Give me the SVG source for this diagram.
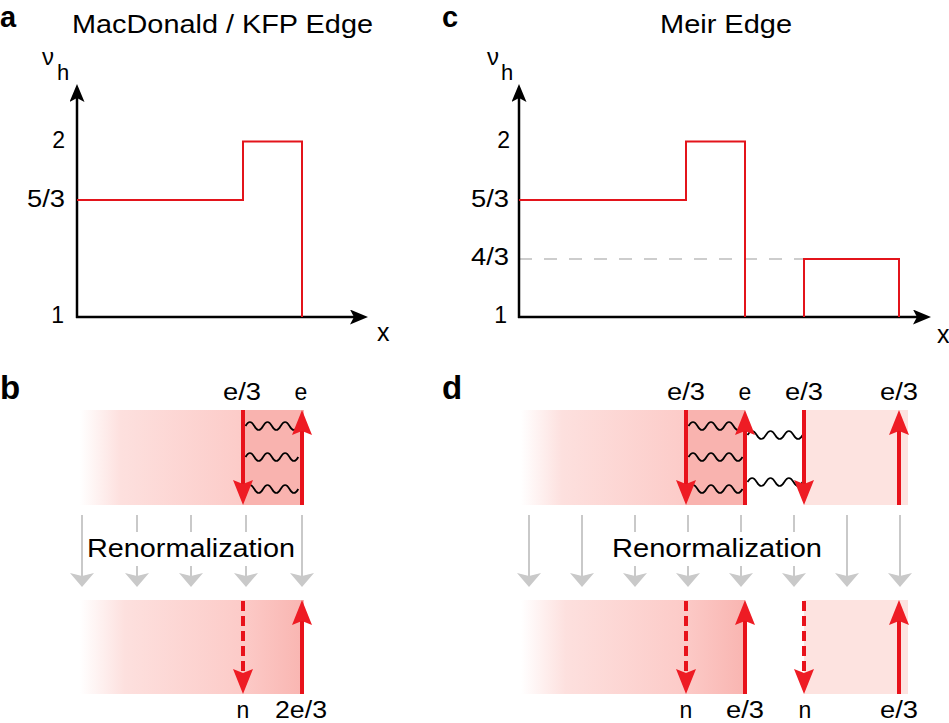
<svg xmlns="http://www.w3.org/2000/svg" width="949" height="723" viewBox="0 0 949 723">
<style>
text{font-family:"Liberation Sans",Arial,Helvetica,sans-serif;fill:#000}
.panel{font-weight:bold;font-size:33px}
.panel-top{font-weight:bold;font-size:29px}
.title{font-size:26px}
.tick{font-size:23px}
.lbl{font-size:23px}
.axis{stroke:#000;stroke-width:2.5;fill:none}
.step{stroke:#e3141b;stroke-width:2;fill:none}
.red{stroke:#e8121b;stroke-width:4;fill:none}
.dash{stroke-dasharray:10 5}
.gray{stroke:#c9c9c9;stroke-width:2;fill:none}
.wave{stroke:#000;stroke-width:1.7;fill:none}
.dark{fill:#f9b3af}
.light{fill:#fde3e0}
</style>
<defs>
<marker id="ah-black" markerUnits="userSpaceOnUse" viewBox="0 0 18 15" markerWidth="18" markerHeight="15" refX="10" refY="7.5" orient="auto"><path d="M0,0 L18,7.5 L0,15 L4,7.5 Z" fill="#000"/></marker>
<marker id="ah-red" markerUnits="userSpaceOnUse" viewBox="0 0 25 20" markerWidth="25" markerHeight="20" refX="15" refY="10" orient="auto"><path d="M0,0 L25,10 L0,20 L4,10 Z" fill="#ee1c24"/></marker>
<marker id="ah-gray" markerUnits="userSpaceOnUse" viewBox="0 0 14 24" markerWidth="14" markerHeight="24" refX="4" refY="12" orient="auto"><path d="M0,0 L14,12 L0,24 L3,12 Z" fill="#c9c9c9"/></marker>
<linearGradient id="fade" x1="0" y1="0" x2="1" y2="0"><stop offset="0" stop-color="#ffffff"/><stop offset="0.25" stop-color="#fde0de"/><stop offset="1" stop-color="#fccbc8"/></linearGradient>
<linearGradient id="fade2" x1="0" y1="0" x2="1" y2="0"><stop offset="0" stop-color="#ffffff"/><stop offset="0.2" stop-color="#fde0de"/><stop offset="0.72" stop-color="#fccbc8"/><stop offset="1" stop-color="#f9b5b1"/></linearGradient>
</defs>

<!-- Panel a -->
<g id="panel-a">
<text class="panel-top" x="0" y="27">a</text>
<text class="title" x="72" y="33" textLength="301" lengthAdjust="spacingAndGlyphs">MacDonald / KFP Edge</text>
<text x="42" y="65" font-size="24">ν<tspan font-size="22" x="57" y="80">h</tspan></text>
<text class="tick" x="65" y="148" text-anchor="end">2</text>
<text class="tick" x="65" y="207" text-anchor="end" textLength="38" lengthAdjust="spacingAndGlyphs">5/3</text>
<text class="tick" x="64" y="323" text-anchor="end">1</text>
<text x="377" y="341" font-size="25">x</text>
<line class="axis" x1="77" y1="318" x2="77" y2="92" marker-end="url(#ah-black)"/>
<line class="axis" x1="76" y1="317" x2="360" y2="317" marker-end="url(#ah-black)"/>
<path class="step" d="M77,200 H243 V141.5 H302 V317"/>
</g>

<!-- Panel c -->
<g id="panel-c">
<text class="panel-top" x="442" y="27">c</text>
<text class="title" x="660" y="33" textLength="132" lengthAdjust="spacingAndGlyphs">Meir Edge</text>
<text x="487" y="65" font-size="24">ν<tspan font-size="22" x="501" y="80">h</tspan></text>
<text class="tick" x="510" y="148" text-anchor="end">2</text>
<text class="tick" x="509" y="207" text-anchor="end" textLength="38" lengthAdjust="spacingAndGlyphs">5/3</text>
<text class="tick" x="509" y="265" text-anchor="end" textLength="38" lengthAdjust="spacingAndGlyphs">4/3</text>
<text class="tick" x="507" y="323" text-anchor="end">1</text>
<text x="937" y="343" font-size="25">x</text>
<line x1="519" y1="259" x2="804" y2="259" stroke="#bdbdbd" stroke-width="1.5" stroke-dasharray="13 12"/>
<line class="axis" x1="519" y1="318" x2="519" y2="92" marker-end="url(#ah-black)"/>
<line class="axis" x1="518" y1="317" x2="923" y2="317" marker-end="url(#ah-black)"/>
<path class="step" d="M519,200 H686 V141.5 H745 V317"/>
<path class="step" d="M804,317 V259 H899 V317"/>
</g>

<!-- Panel b -->
<g id="panel-b">
<text class="panel" x="0" y="399">b</text>
<g id="b-top">
<rect x="80" y="410" width="163" height="95" fill="url(#fade)"/>
<rect class="dark" x="243" y="410" width="61" height="95"/>
<text class="lbl" x="242" y="400" text-anchor="middle" textLength="38" lengthAdjust="spacingAndGlyphs">e/3</text>
<text class="lbl" x="301" y="400" text-anchor="middle">e</text>
</g>
<g id="b-bottom">
<rect x="80" y="600" width="224" height="94" fill="url(#fade2)"/>
<text class="lbl" x="243" y="718" text-anchor="middle">n</text>
<text class="lbl" x="301" y="718" text-anchor="middle" textLength="52" lengthAdjust="spacingAndGlyphs">2e/3</text>
</g>
</g>

<!-- Panel d -->
<g id="panel-d">
<text class="panel" x="442" y="399">d</text>
<g id="d-top">
<rect x="521" y="410" width="165" height="95" fill="url(#fade)"/>
<rect class="dark" x="686" y="410" width="59" height="95"/>
<rect class="light" x="804" y="410" width="104" height="95"/>
<text class="lbl" x="686" y="400" text-anchor="middle" textLength="38" lengthAdjust="spacingAndGlyphs">e/3</text>
<text class="lbl" x="745" y="400" text-anchor="middle">e</text>
<text class="lbl" x="804" y="400" text-anchor="middle" textLength="38" lengthAdjust="spacingAndGlyphs">e/3</text>
<text class="lbl" x="899" y="400" text-anchor="middle" textLength="38" lengthAdjust="spacingAndGlyphs">e/3</text>
</g>
<g id="d-bottom">
<rect x="521" y="600" width="224" height="94" fill="url(#fade2)"/>
<rect class="light" x="804" y="600" width="104" height="94"/>
<text class="lbl" x="686" y="718" text-anchor="middle">n</text>
<text class="lbl" x="745" y="718" text-anchor="middle" textLength="38" lengthAdjust="spacingAndGlyphs">e/3</text>
<text class="lbl" x="805" y="718" text-anchor="middle">n</text>
<text class="lbl" x="899" y="718" text-anchor="middle" textLength="38" lengthAdjust="spacingAndGlyphs">e/3</text>
</g>
</g>

<!-- Renormalization connectors -->
<g id="renorm-b">
<line class="gray" x1="82" y1="515" x2="82" y2="577" marker-end="url(#ah-gray)"/>
<line class="gray" x1="137" y1="515" x2="137" y2="577" marker-end="url(#ah-gray)"/>
<line class="gray" x1="191" y1="515" x2="191" y2="577" marker-end="url(#ah-gray)"/>
<line class="gray" x1="246" y1="515" x2="246" y2="577" marker-end="url(#ah-gray)"/>
<line class="gray" x1="302" y1="515" x2="302" y2="577" marker-end="url(#ah-gray)"/>
<rect x="86" y="532" width="212" height="34" fill="#fff"/>
<text class="title" x="87" y="557" textLength="208" lengthAdjust="spacingAndGlyphs">Renormalization</text>
</g>
<g id="renorm-d">
<line class="gray" x1="529" y1="515" x2="529" y2="577" marker-end="url(#ah-gray)"/>
<line class="gray" x1="582" y1="515" x2="582" y2="577" marker-end="url(#ah-gray)"/>
<line class="gray" x1="635" y1="515" x2="635" y2="577" marker-end="url(#ah-gray)"/>
<line class="gray" x1="688" y1="515" x2="688" y2="577" marker-end="url(#ah-gray)"/>
<line class="gray" x1="741" y1="515" x2="741" y2="577" marker-end="url(#ah-gray)"/>
<line class="gray" x1="794" y1="515" x2="794" y2="577" marker-end="url(#ah-gray)"/>
<line class="gray" x1="847" y1="515" x2="847" y2="577" marker-end="url(#ah-gray)"/>
<line class="gray" x1="900" y1="515" x2="900" y2="577" marker-end="url(#ah-gray)"/>
<rect x="604" y="532" width="232" height="34" fill="#fff"/>
<text class="title" x="612" y="557" textLength="210" lengthAdjust="spacingAndGlyphs">Renormalization</text>
</g>

<!-- Edge-mode connectors -->
<g id="connectors">
<path class="wave" d="M245.5,426 q4.4,-8 8.8,0 t8.8,0 t8.8,0 t8.8,0 t8.8,0 t8.8,0"/>
<path class="wave" d="M245.5,457 q4.4,-8 8.8,0 t8.8,0 t8.8,0 t8.8,0 t8.8,0 t8.8,0"/>
<path class="wave" d="M245.5,489 q4.4,-8 8.8,0 t8.8,0 t8.8,0 t8.8,0 t8.8,0 t8.8,0"/>
<path class="wave" d="M688.5,426 q4.5,-8 9,0 t9,0 t9,0 t9,0 t9,0 t9,0"/>
<path class="wave" d="M688.5,457 q4.5,-8 9,0 t9,0 t9,0 t9,0 t9,0 t9,0"/>
<path class="wave" d="M688.5,489 q4.5,-8 9,0 t9,0 t9,0 t9,0 t9,0 t9,0"/>
<path class="wave" d="M747.5,435 q4.6,-8 9.2,0 t9.2,0 t9.2,0 t9.2,0 t9.2,0 t9.2,0"/>
<path class="wave" d="M747.5,482 q4.6,-8 9.2,0 t9.2,0 t9.2,0 t9.2,0 t9.2,0 t9.2,0"/>

<line class="red" x1="243" y1="410" x2="243" y2="495" marker-end="url(#ah-red)"/>
<line class="red" x1="302" y1="505" x2="302" y2="420" marker-end="url(#ah-red)"/>
<line class="red dash" x1="243" y1="601" x2="243" y2="684" marker-end="url(#ah-red)"/>
<line class="red" x1="302" y1="694" x2="302" y2="610" marker-end="url(#ah-red)"/>

<line class="red" x1="686" y1="410" x2="686" y2="495" marker-end="url(#ah-red)"/>
<line class="red" x1="745" y1="505" x2="745" y2="420" marker-end="url(#ah-red)"/>
<line class="red" x1="804" y1="410" x2="804" y2="495" marker-end="url(#ah-red)"/>
<line class="red" x1="899" y1="505" x2="899" y2="420" marker-end="url(#ah-red)"/>
<line class="red dash" x1="686" y1="601" x2="686" y2="684" marker-end="url(#ah-red)"/>
<line class="red" x1="745" y1="694" x2="745" y2="610" marker-end="url(#ah-red)"/>
<line class="red dash" x1="804" y1="601" x2="804" y2="684" marker-end="url(#ah-red)"/>
<line class="red" x1="899" y1="694" x2="899" y2="610" marker-end="url(#ah-red)"/>
</g>
</svg>
